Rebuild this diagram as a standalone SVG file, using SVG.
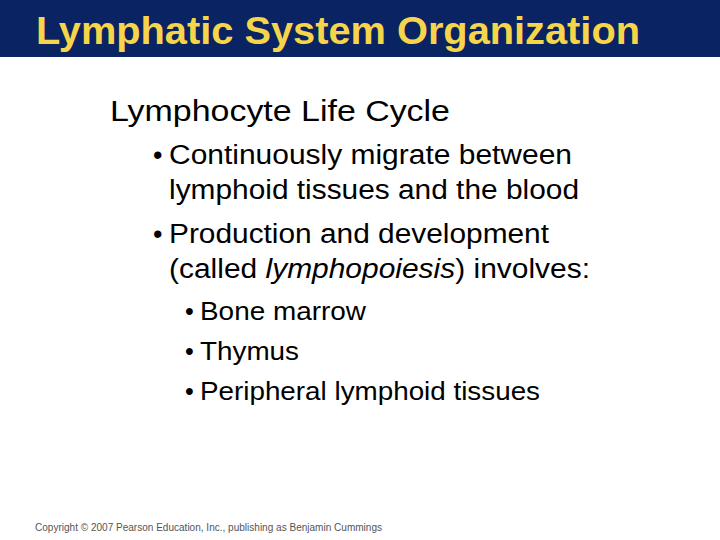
<svg xmlns="http://www.w3.org/2000/svg" width="720" height="540" viewBox="0 0 720 540">
<style>
text{font-family:"Liberation Sans",Arial,sans-serif;fill:#000}
.t{font-size:38px;font-weight:bold;fill:#F7D54A}
.h{font-size:30px}
.b{font-size:27px}
.s{font-size:25px}
.c{font-size:10px;fill:#555}
</style>
<rect width="720" height="540" fill="#fff"/>
<rect width="720" height="57" fill="#0A2363"/>
<text class="t" x="36" y="44" textLength="604" lengthAdjust="spacingAndGlyphs">Lymphatic System Organization</text>
<text class="h" x="110" y="121" textLength="340" lengthAdjust="spacingAndGlyphs">Lymphocyte Life Cycle</text>
<text class="b" x="153" y="164" font-size="18">•</text>
<text class="b" x="169" y="164" textLength="403" lengthAdjust="spacingAndGlyphs">Continuously migrate between</text>
<text class="b" x="169" y="199" textLength="410" lengthAdjust="spacingAndGlyphs">lymphoid tissues and the blood</text>
<text class="b" x="153" y="243" font-size="18">•</text>
<text class="b" x="169" y="243" textLength="380" lengthAdjust="spacingAndGlyphs">Production and development</text>
<text class="b" x="169" y="278" textLength="421" lengthAdjust="spacingAndGlyphs">(called <tspan font-style="italic">lymphopoiesis</tspan>) involves:</text>
<text class="s" x="185" y="320" font-size="16">•</text>
<text class="s" x="200" y="320" textLength="166" lengthAdjust="spacingAndGlyphs">Bone marrow</text>
<text class="s" x="185" y="360" font-size="16">•</text>
<text class="s" x="200" y="360" textLength="99" lengthAdjust="spacingAndGlyphs">Thymus</text>
<text class="s" x="185" y="400" font-size="16">•</text>
<text class="s" x="200" y="400" textLength="340" lengthAdjust="spacingAndGlyphs">Peripheral lymphoid tissues</text>
<text class="c" x="35" y="531" textLength="347" lengthAdjust="spacingAndGlyphs">Copyright © 2007 Pearson Education, Inc., publishing as Benjamin Cummings</text>
</svg>
